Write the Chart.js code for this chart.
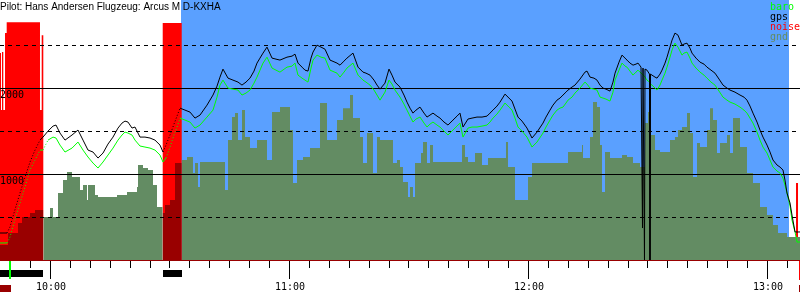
<!DOCTYPE html>
<html>
<head>
<meta charset="utf-8">
<script src="https://cdn.jsdelivr.net/npm/chart.js@4.4.1/dist/chart.umd.min.js"></script>
<style>
  html, body { margin: 0; padding: 0; background: #fff; }
  #wrap { width: 800px; height: 300px; }
</style>
</head>
<body>
<div id="wrap"><canvas id="barogram" width="800" height="300"></canvas></div>
<script>
// times are minutes after midnight, altitudes in metres
const pilotTitle = 'Pilot: Hans Andersen Flugzeug: Arcus M D-KXHA';
const seriesNames = ['baro', 'gps', 'noise', 'gnd'];

const viewStart = 587.45;
const viewEnd = 788.29;
const altMax = 3025;

const flightTimes = [
  587.45, 589.21, 589.96, 590.96, 592.47, 593.73, 594.98, 596.24, 597.49, 598.25,
  599.50, 600.76, 601.51, 602.51, 603.77, 605.53, 607.03, 608.29, 609.54, 610.80,
  612.05, 613.31, 614.56, 615.82, 617.07, 618.08, 618.83, 619.58, 620.59, 621.34,
  622.60, 623.85, 625.11, 626.36, 627.62, 628.37, 629.12, 630.13, 631.13, 631.89,
  632.64, 633.89, 635.15, 636.40, 637.66, 639.42, 640.92, 641.93, 642.68, 643.43,
  644.69, 645.94, 647.20, 648.20, 649.21, 650.21, 651.22, 651.97, 652.72, 653.48,
  654.48, 655.74, 656.74, 657.74, 659.50, 660.76, 661.51, 662.26, 663.27, 664.02,
  664.77, 665.53, 666.03, 667.03, 668.04, 669.04, 670.30, 672.05, 672.81, 673.81,
  674.56, 676.07, 677.33, 678.58, 679.33, 680.34, 681.34, 682.10, 682.85, 684.10,
  685.11, 685.86, 686.61, 687.87, 688.87, 689.63, 690.38, 691.13, 691.89, 692.89,
  693.90, 694.65, 695.40, 696.15, 697.16, 697.91, 698.92, 699.92, 701.17, 702.18,
  702.93, 703.69, 704.94, 705.95, 707.20, 708.46, 709.71, 710.46, 711.22, 712.22,
  712.98, 714.23, 715.23, 715.99, 716.74, 717.49, 718.50, 719.75, 721.01, 722.26,
  723.77, 724.52, 725.53, 726.28, 727.28, 728.04, 728.79, 729.54, 730.05, 731.05,
  731.80, 733.06, 734.31, 734.82, 735.57, 736.57, 737.33, 738.08, 738.83, 739.59,
  740.59, 741.34, 741.85, 742.85, 743.60, 744.36, 744.86, 745.61, 746.37, 747.12,
  747.62, 748.38, 748.75, 748.88, 749.25, 749.38, 749.88, 750.51, 750.63, 750.76,
  751.13, 751.89, 752.39, 753.14, 753.65, 754.40, 754.90, 755.65, 756.16, 756.90,
  757.66, 758.67, 759.17, 759.92, 760.67, 761.18, 762.18, 763.19, 764.19, 764.94,
  765.95, 766.95, 767.96, 768.96, 769.96, 770.72, 771.97, 773.23, 774.23, 774.98,
  775.74, 776.49, 777.50, 778.25, 779.00, 780.01, 780.76, 781.51, 782.52, 783.27,
  784.02, 784.52, 785.03, 785.78, 786.28, 787.04, 787.54, 788.29
];

const baroAlt = [
  198, 198, 267, 430, 663, 849, 1047, 1163, 1279, 1279,
  1395, 1430, 1419, 1337, 1256, 1302, 1372, 1279, 1198, 1128,
  1070, 1140, 1221, 1302, 1395, 1454, 1488, 1477, 1454, 1395,
  1326, 1314, 1302, 1279, 1221, 1140, 1186, 1314, 1454, 1547,
  1651, 1628, 1605, 1535, 1570, 1663, 1744, 1895, 2035, 2093,
  2000, 1988, 1977, 1919, 1942, 1977, 2058, 2128, 2209, 2291,
  2360, 2233, 2209, 2186, 2244, 2256, 2291, 2151, 2116, 2093,
  2070, 2233, 2326, 2384, 2360, 2349, 2209, 2174, 2128, 2186,
  2233, 2291, 2151, 2093, 2070, 2035, 1977, 1919, 1860, 1953,
  2093, 2047, 1977, 1895, 1814, 1744, 1674, 1605, 1640, 1663,
  1593, 1547, 1581, 1605, 1570, 1547, 1500, 1454, 1512, 1558,
  1593, 1430, 1535, 1547, 1547, 1558, 1570, 1605, 1651, 1698,
  1744, 1826, 1779, 1744, 1651, 1547, 1500, 1430, 1314, 1372,
  1477, 1547, 1628, 1686, 1744, 1767, 1779, 1826, 1860, 1895,
  1942, 2000, 2070, 2047, 2000, 1988, 1977, 1895, 1884, 1872,
  1849, 1953, 2093, 2209, 2291, 2256, 2244, 2198, 2151, 2186,
  2209, 2174, 2163, 2151, 2140, 2128, 2093, 2070, 2058, 2047,
  2035, 2000, 1977, 2035, 2093, 2174, 2244, 2360, 2442, 2523,
  2477, 2384, 2407, 2419, 2349, 2291, 2233, 2186, 2151, 2116,
  2070, 2035, 1965, 1895, 1860, 1837, 1814, 1779, 1744, 1709,
  1651, 1593, 1488, 1395, 1314, 1244, 1163, 1081, 1035, 1012,
  953, 872, 779, 628, 465, 326, 209, 209
];

const gpsAlt = [
  314, 314, 384, 547, 779, 965, 1140, 1279, 1395, 1430,
  1500, 1558, 1570, 1477, 1395, 1454, 1512, 1395, 1279, 1256,
  1186, 1244, 1349, 1430, 1535, 1593, 1616, 1605, 1535, 1547,
  1430, 1430, 1419, 1395, 1337, 1256, 1337, 1454, 1581, 1674,
  1767, 1744, 1721, 1651, 1686, 1802, 1919, 2023, 2128, 2221,
  2116, 2093, 2070, 2035, 2070, 2116, 2198, 2291, 2349, 2407,
  2477, 2349, 2337, 2326, 2360, 2372, 2395, 2291, 2244, 2209,
  2198, 2349, 2419, 2500, 2477, 2453, 2326, 2291, 2267, 2314,
  2349, 2407, 2244, 2186, 2174, 2151, 2093, 2035, 1988, 2058,
  2221, 2151, 2070, 2012, 1919, 1837, 1767, 1709, 1744, 1779,
  1709, 1663, 1686, 1709, 1674, 1651, 1605, 1570, 1628, 1674,
  1709, 1547, 1640, 1651, 1663, 1663, 1674, 1709, 1744, 1791,
  1837, 1930, 1884, 1849, 1756, 1663, 1616, 1535, 1419, 1488,
  1593, 1663, 1744, 1802, 1860, 1884, 1919, 1953, 1977, 2012,
  2035, 2105, 2186, 2198, 2128, 2116, 2093, 2035, 2000, 1988,
  1965, 2070, 2174, 2302, 2384, 2349, 2326, 2291, 2267, 2279,
  2291, 2244, 372, 2233, 0, 2221, 2209, 2163, 0, 2163,
  2151, 2128, 2116, 2163, 2209, 2291, 2360, 2477, 2558, 2640,
  2616, 2500, 2512, 2523, 2465, 2407, 2349, 2302, 2279, 2244,
  2209, 2174, 2105, 2035, 2000, 1977, 1953, 1919, 1895, 1860,
  1791, 1709, 1605, 1512, 1430, 1337, 1256, 1163, 1105, 1081,
  1047, 930, 779, 663, 523, 326, 326, 326
];

const gndTimes = [
  587.45, 589.46, 591.97, 592.97, 594.98, 596.24, 598.32, 600.00, 600.76, 602.01,
  603.27, 604.27, 605.53, 607.53, 608.29, 609.29, 609.54, 611.30, 612.05, 616.82,
  619.33, 621.84, 622.09, 623.35, 624.61, 625.86, 626.86, 628.30, 628.87, 630.13,
  631.38, 633.07, 634.40, 635.90, 636.40, 637.16, 637.66, 643.94, 644.69, 645.69,
  646.45, 647.20, 648.20, 648.96, 650.21, 651.97, 654.48, 655.74, 657.74, 660.25,
  661.01, 662.01, 663.52, 665.28, 667.79, 669.54, 672.05, 673.56, 675.32, 676.07,
  677.83, 678.58, 679.58, 681.09, 682.10, 682.85, 686.11, 687.12, 687.87, 688.62,
  689.88, 690.38, 691.13, 691.64, 693.14, 693.64, 694.65, 695.40, 696.15, 703.44,
  704.19, 704.94, 706.70, 708.46, 709.96, 714.48, 714.98, 716.74, 720.00, 721.01,
  730.05, 733.56, 733.81, 735.57, 736.32, 737.33, 738.08, 738.58, 739.33, 740.59,
  743.60, 744.86, 746.37, 748.12, 749.38, 750.13, 750.63, 751.89, 753.14, 755.65,
  756.90, 757.66, 758.67, 759.92, 760.67, 761.43, 762.43, 763.19, 764.94, 765.70,
  766.45, 767.46, 768.21, 769.96, 770.72, 771.47, 773.23, 774.98, 776.49, 778.25,
  780.01, 781.51, 782.77, 785.03, 788.29
];

const gndAlt = [
  174, 314, 430, 500, 547, 581, 500, 605, 500, 779,
  930, 1023, 965, 814, 872, 698, 872, 756, 733, 756,
  791, 849, 1105, 1070, 1047, 872, 616, 547, 640, 698,
  1128, 1163, 1198, 1012, 1128, 849, 1140, 814, 1395, 1663,
  1709, 1395, 1744, 1430, 1302, 1395, 1163, 1721, 1779, 1512,
  895, 1163, 1198, 1302, 1826, 1395, 1628, 1767, 1919, 1651,
  1430, 1128, 1477, 1012, 1430, 1395, 1128, 1163, 1081, 907,
  733, 849, 733, 1128, 1244, 1372, 1128, 1337, 1140, 1337,
  1198, 1140, 1244, 1105, 1186, 1372, 1081, 698, 965, 1128,
  1256, 1337, 1186, 1430, 1837, 1779, 1337, 791, 1256, 1186,
  1221, 1198, 1128, 1081, 1593, 1721, 1454, 1279, 1256, 1395,
  1430, 1512, 1547, 1709, 1477, 965, 1360, 1314, 1512, 1767,
  1628, 1244, 1360, 1454, 1244, 1651, 1314, 1012, 895, 616,
  523, 407, 314, 267, 267
];

const noiseTimes = [
  587.45, 587.70, 587.95, 588.28, 588.71, 589.13, 597.49, 597.92, 598.32, 628.30,
  633.07, 717.24, 717.49, 721.58, 721.83, 724.02, 724.27, 726.78, 727.03, 787.29,
  787.79, 788.29
];
const noiseLevel = [
  2407, 1744, 2419, 1744, 2640, 2767, 1744, 2616, 0, 2756,
  0, 35, 0, 81, 0, 12, 0, 267, 0, 895,
  0, 0
];

const engineRuns = [[587.45, 598.32], [628.30, 633.07]];
const taskWindow = [632.89, 785.53];
const takeoffTime = 589.96;
const landingTime = 788.0;

const hourTicks = [600, 660, 720, 780];
const hourLabels = ['10:00', '11:00', '12:00', '13:00'];
const minorStep = 5;
const altLabels = ['1000', '2000'];
const solidGrid = [1000, 2000];
const dashedGrid = [500, 1500, 2500];

const COLORS = {
  baro: '#00ff00',
  gps: '#000000',
  noise: '#ff0000',
  gnd: '#638c63',
  gndEngine: '#990000',
  task: '#5aa0ff'
};
const MONO = '10px "DejaVu Sans Mono", monospace';

const inRun = t => engineRuns.some(r => t >= r[0] && t < r[1]);
const toPoints = (ts, vs) => ts.map((t, i) => ({ x: t, y: vs[i] }));

// climbs under engine are drawn as dots in the original
const climbDots = c =>
  inRun(c.p0.parsed.x) && Math.abs(c.p1.y - c.p0.y) > 1.5 * Math.abs(c.p1.x - c.p0.x)
    ? [1, 2] : undefined;

const px = v => Math.round(v) + 0.5;

const overlay = {
  id: 'overlay',
  beforeDatasetsDraw(chart) {
    const { ctx, chartArea: a, scales: { x } } = chart;
    const x0 = Math.round(x.getPixelForValue(taskWindow[0]));
    const x1 = Math.round(x.getPixelForValue(taskWindow[1]));
    ctx.save();
    ctx.fillStyle = COLORS.task;
    ctx.fillRect(x0, a.top, x1 - x0, a.bottom - a.top);
    ctx.restore();
  },
  afterDatasetDraw(chart, args) {
    // grid goes over the ground fill, under the altitude curves
    if (args.index !== 2) return;
    const { ctx, chartArea: a, scales: { y } } = chart;
    ctx.save();
    ctx.strokeStyle = '#000';
    ctx.lineWidth = 1;
    solidGrid.forEach(v => {
      const py = px(y.getPixelForValue(v));
      ctx.beginPath(); ctx.moveTo(a.left, py); ctx.lineTo(a.right, py); ctx.stroke();
    });
    ctx.setLineDash([4, 4]);
    dashedGrid.forEach(v => {
      const py = px(y.getPixelForValue(v));
      ctx.beginPath(); ctx.moveTo(a.left, py); ctx.lineTo(a.right, py); ctx.stroke();
    });
    ctx.restore();
  },
  afterDraw(chart) {
    const { ctx, chartArea: a, scales: { x, y } } = chart;
    ctx.save();

    // altitude labels
    ctx.font = MONO;
    ctx.fillStyle = '#000';
    ctx.textAlign = 'left';
    ctx.textBaseline = 'alphabetic';
    solidGrid.forEach((v, i) => {
      ctx.fillText(altLabels[i], 0, Math.round(y.getPixelForValue(v)) + 10);
    });

    // baseline
    ctx.strokeStyle = COLORS.gndEngine;
    ctx.beginPath(); ctx.moveTo(a.left, a.bottom + 0.5); ctx.lineTo(a.right, a.bottom + 0.5); ctx.stroke();

    // time ticks
    ctx.strokeStyle = '#000';
    const first = Math.ceil(viewStart / minorStep) * minorStep;
    for (let t = first; t <= viewEnd; t += minorStep) {
      const tx = px(x.getPixelForValue(t));
      const len = t % 60 === 0 ? 18 : 7;
      ctx.beginPath(); ctx.moveTo(tx, a.bottom + 1); ctx.lineTo(tx, a.bottom + 1 + len); ctx.stroke();
    }
    ctx.textAlign = 'center';
    hourTicks.forEach((t, i) => {
      ctx.fillText(hourLabels[i], Math.round(x.getPixelForValue(t)) + 1, a.bottom + 30);
    });

    // engine run bars
    ctx.fillStyle = '#000';
    engineRuns.forEach(r => {
      const x0 = Math.round(x.getPixelForValue(r[0]));
      const x1 = Math.round(x.getPixelForValue(r[1]));
      ctx.fillRect(x0, a.bottom + 10, x1 - x0, 7);
    });

    // on-ground markers
    const tk = Math.round(x.getPixelForValue(takeoffTime));
    const ld = Math.round(x.getPixelForValue(landingTime));
    ctx.fillStyle = COLORS.gndEngine;
    ctx.fillRect(a.left, a.bottom + 25, tk - a.left + 1, 7);
    ctx.fillRect(ld, a.bottom + 25, a.right - ld, 7);
    ctx.fillStyle = COLORS.baro;
    ctx.fillRect(tk - 1, a.bottom + 1, 2, 18);
    ctx.fillStyle = COLORS.noise;
    ctx.fillRect(ld, a.bottom + 1, 2, 19);

    // title
    ctx.textAlign = 'left';
    ctx.fillStyle = '#000';
    ctx.font = '10px "Liberation Sans", Arial, sans-serif';
    ctx.fillText(pilotTitle, 0, 10);

    // legend
    ctx.font = MONO;
    const legendColors = [COLORS.baro, COLORS.gps, COLORS.noise, COLORS.gnd];
    seriesNames.forEach((name, i) => {
      ctx.fillStyle = legendColors[i];
      ctx.fillText(name, 770, 10 + i * 10);
    });
    ctx.restore();
  }
};

new Chart(document.getElementById('barogram'), {
  type: 'line',
  data: {
    datasets: [
      {
        label: seriesNames[1],
        data: toPoints(flightTimes, gpsAlt),
        borderColor: COLORS.gps,
        borderWidth: 1,
        pointRadius: 0,
        fill: false,
        segment: { borderDash: climbDots }
      },
      {
        label: seriesNames[0],
        data: toPoints(flightTimes, baroAlt),
        borderColor: COLORS.baro,
        borderWidth: 1,
        pointRadius: 0,
        fill: false,
        segment: { borderDash: climbDots }
      },
      {
        label: seriesNames[3],
        data: toPoints(gndTimes, gndAlt),
        stepped: true,
        borderWidth: 0,
        pointRadius: 0,
        backgroundColor: COLORS.gnd,
        fill: 'origin',
        segment: {
          backgroundColor: c => inRun(c.p0.parsed.x) ? COLORS.gndEngine : undefined
        }
      },
      {
        label: seriesNames[2],
        data: toPoints(noiseTimes, noiseLevel),
        stepped: true,
        borderWidth: 0,
        pointRadius: 0,
        backgroundColor: COLORS.noise,
        fill: 'origin'
      }
    ]
  },
  options: {
    responsive: false,
    animation: false,
    devicePixelRatio: 1,
    layout: { padding: { left: 0, right: 0, top: 0, bottom: 40 } },
    plugins: { legend: { display: false }, tooltip: { enabled: false } },
    scales: {
      x: { type: 'linear', min: viewStart, max: viewEnd, display: false },
      y: { min: 0, max: altMax, display: false }
    }
  },
  plugins: [overlay]
});
</script>
</body>
</html>
